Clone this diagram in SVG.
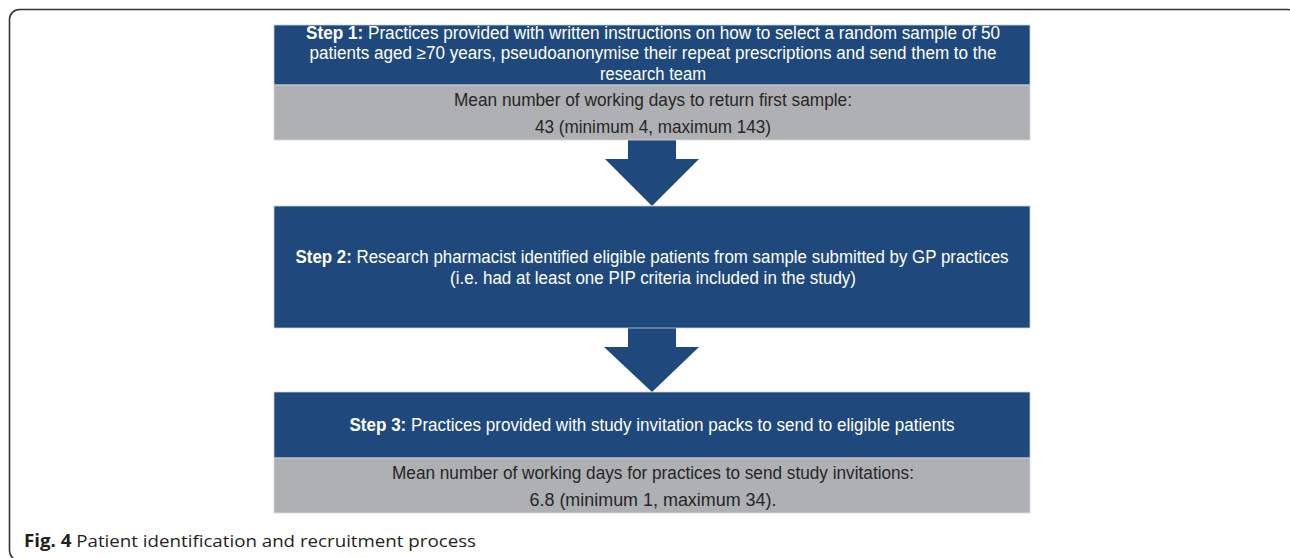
<svg xmlns="http://www.w3.org/2000/svg" width="1290" height="558" viewBox="0 0 1290 558">
<style>
.blue{fill:#1f497c;stroke:#c9d3e0;stroke-width:0.8}
.gray{fill:#aeb0b3;stroke:#d9dadc;stroke-width:0.8}
.wt{fill:#ffffff;font-family:"Liberation Sans",Arial,sans-serif;font-size:17.5px;text-anchor:middle}
.dt{fill:#262626;font-family:"Liberation Sans",Arial,sans-serif;font-size:17.5px;text-anchor:middle}
.b{font-weight:bold}
.arrow{fill:#1f497c}
.cap{fill:#231f20;font-family:"Open Sans","Liberation Sans",sans-serif;font-size:17px}
</style>
<rect x="9.5" y="9.5" width="1288" height="551" rx="10" ry="10" fill="#ffffff" stroke="#333333" stroke-width="1.6"/>
<g id="connectors">
<polygon class="arrow" points="628,140 676,140 676,159 699,159 652,206 605,159 628,159"/>
<polygon class="arrow" points="628,328 676,328 676,347 699,347 652,392 604,347 628,347"/>
</g>
<g id="step1">
<rect class="blue" x="274" y="25" width="756" height="60"/>
<text class="wt" x="653" y="38.5" textLength="694" lengthAdjust="spacingAndGlyphs"><tspan class="b">Step 1:</tspan> Practices provided with written instructions on how to select a random sample of 50</text>
<text class="wt" x="653" y="59" textLength="687" lengthAdjust="spacingAndGlyphs">patients aged ≥70 years, pseudoanonymise their repeat prescriptions and send them to the</text>
<text class="wt" x="653" y="79.5" textLength="106" lengthAdjust="spacingAndGlyphs">research team</text>
</g>
<g id="step1-stats">
<rect class="gray" x="274" y="85" width="756" height="55"/>
<text class="dt" x="653" y="105.5" textLength="398" lengthAdjust="spacingAndGlyphs">Mean number of working days to return first sample:</text>
<text class="dt" x="653" y="132.5" textLength="236" lengthAdjust="spacingAndGlyphs">43 (minimum 4, maximum 143)</text>
</g>
<g id="step2">
<rect class="blue" x="274" y="206" width="756" height="122"/>
<text class="wt" x="652" y="262.5" textLength="713" lengthAdjust="spacingAndGlyphs"><tspan class="b">Step 2:</tspan> Research pharmacist identified eligible patients from sample submitted by GP practices</text>
<text class="wt" x="653" y="283.5" textLength="406" lengthAdjust="spacingAndGlyphs">(i.e. had at least one PIP criteria included in the study)</text>
</g>
<g id="step3">
<rect class="blue" x="274" y="392" width="756" height="66"/>
<text class="wt" x="652" y="430.5" textLength="605" lengthAdjust="spacingAndGlyphs"><tspan class="b">Step 3:</tspan> Practices provided with study invitation packs to send to eligible patients</text>
</g>
<g id="step3-stats">
<rect class="gray" x="274" y="458" width="756" height="55"/>
<text class="dt" x="653" y="478.5" textLength="522" lengthAdjust="spacingAndGlyphs">Mean number of working days for practices to send study invitations:</text>
<text class="dt" x="653" y="505.5" textLength="247" lengthAdjust="spacingAndGlyphs">6.8 (minimum 1, maximum 34).</text>
</g>
<g id="caption">
<text class="cap" x="24" y="547" textLength="452" lengthAdjust="spacingAndGlyphs"><tspan font-weight="bold">Fig. 4</tspan> Patient identification and recruitment process</text>
</g>
</svg>
